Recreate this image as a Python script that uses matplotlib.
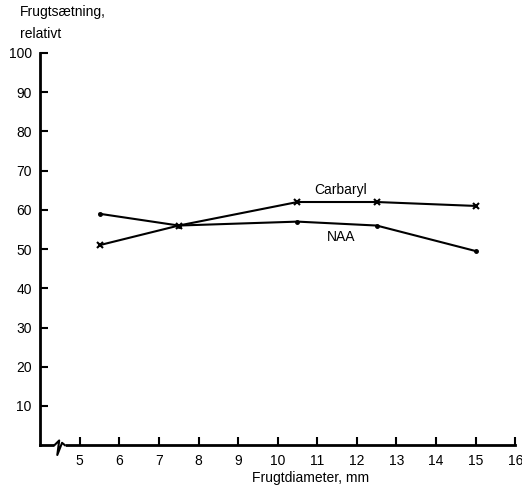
import numpy as np
import matplotlib.pyplot as plt

plt.rcParams['font.family'] = ['Liberation Sans', 'DejaVu Sans']

diameter = [5.5, 7.5, 10.5, 12.5, 15]
carbaryl = [51, 56, 62, 62, 61]
naa = [59, 56, 57, 56, 49.5]
xticks = [5, 6, 7, 8, 9, 10, 11, 12, 13, 14, 15, 16]
yticks = [10, 20, 30, 40, 50, 60, 70, 80, 90, 100]

fig = plt.figure(figsize=(5.22, 4.86), dpi=100)
ax = fig.add_axes([0.077, 0.084, 0.91, 0.807])

ax.plot(diameter, carbaryl, color='black', lw=1.5, marker='x', ms=5, mew=1.5)
ax.plot(diameter, naa, color='black', lw=1.5, marker='o', ms=2.5)

ax.text(11.6, 65, 'Carbaryl', fontsize=10, ha='center', va='center')
ax.text(11.6, 53, 'NAA', fontsize=10, ha='center', va='center')

ax.set_xlim(4, 16)
ax.set_ylim(0, 100)
ax.set_xticks(xticks)
ax.set_yticks(yticks)
ax.tick_params(direction='in', length=6, width=1.5, labelsize=10, pad=6)

for s in ['top', 'right']:
    ax.spines[s].set_visible(False)
for s in ['left', 'bottom']:
    ax.spines[s].set_linewidth(2)

# axis break on the x axis
tr = ax.transAxes
ax.plot([0.035, 0.048], [0, 0], color='white', lw=4, transform=tr, clip_on=False, zorder=5)
ax.plot([0.030, 0.040, 0.036, 0.046, 0.052],
        [0, 0.012, -0.025, 0.006, 0], color='black', lw=1.5,
        transform=tr, clip_on=False, zorder=6)

fig.text(0.038, 0.99, 'Frugtsætning,', fontsize=10, va='top')
fig.text(0.038, 0.945, 'relativt', fontsize=10, va='top')
fig.text(0.595, 0.008, 'Frugtdiameter, mm', fontsize=10, ha='center')

fig.savefig('out.png', dpi=100)
